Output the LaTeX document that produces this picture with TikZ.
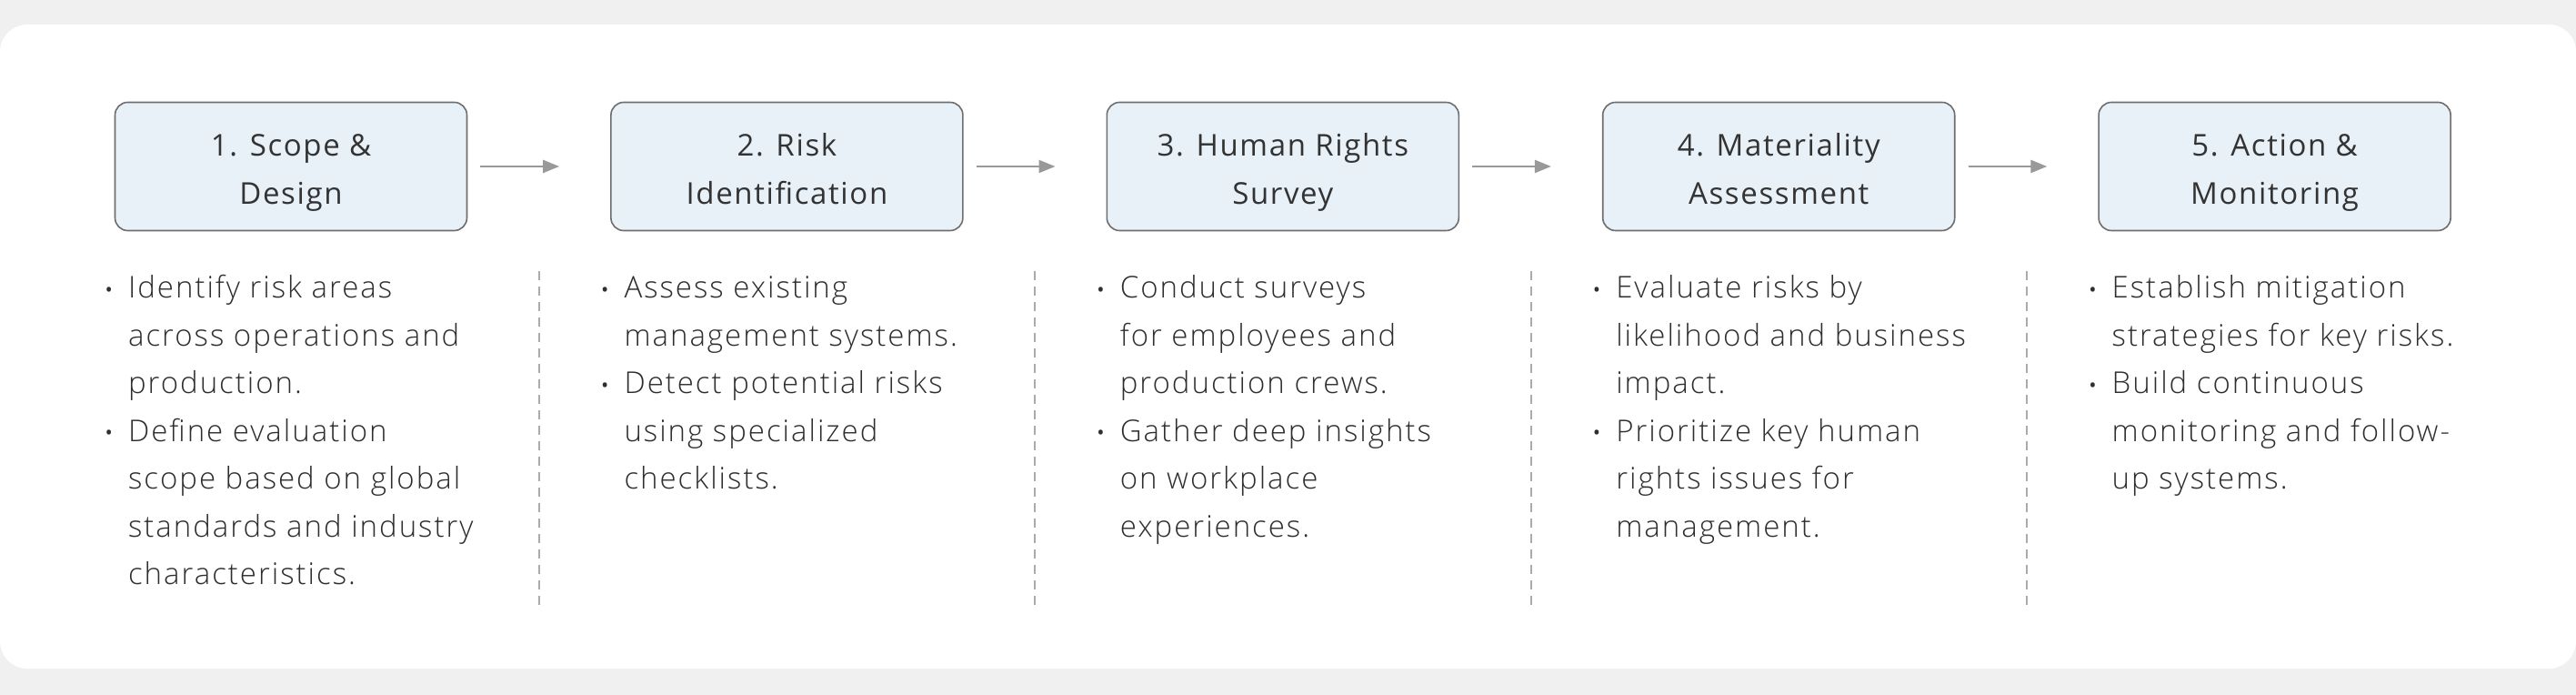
\documentclass[tikz,border=0pt]{standalone}
\usepackage{fontspec}
\setmainfont{Open Sans}
\newfontfamily\stagefont{Open Sans}[LetterSpace=5]
\newfontfamily\notefont{Open Sans Light}[LetterSpace=6]
\usetikzlibrary{positioning,arrows.meta}

\definecolor{pagegray}{HTML}{F0F0F0}
\definecolor{boxfill}{HTML}{E8F1F8}
\definecolor{boxline}{HTML}{6E6E6E}
\definecolor{inkdark}{HTML}{333333}
\definecolor{inknote}{HTML}{2E2E2E}
\definecolor{arrowgray}{HTML}{999999}
\definecolor{dashgray}{HTML}{ABABAB}

\newcommand{\blt}{\strut\llap{\raisebox{0.8pt}{\fontsize{11}{11}\stagefont\textbullet}\hspace{8.6pt}}}
\newcommand{\topstrut}{\rule{0pt}{22.9pt}}

\tikzstyle{stage} = [draw=boxline, line width=0.8pt, fill=boxfill, rounded corners=7pt, minimum width=193.5pt, minimum height=70.5pt, align=center, text=inkdark, font=\stagefont\fontsize{16.5}{26.25}\selectfont]
\tikzstyle{notes} = [inner sep=0pt, align=left, text=inknote, font=\notefont\fontsize{16.5}{26.25}\selectfont]
\tikzstyle{flow} = [draw=arrowgray, line width=1.2pt, -{Triangle[length=9pt,width=7pt]}, shorten <=7pt, shorten >=28pt]
\tikzstyle{divider} = [draw=dashgray, line width=1pt, dash pattern=on 5pt off 3.5pt]

\begin{document}
\begin{tikzpicture}
        % page and card
        \fill[pagegray] (0,0) rectangle (1416.5pt,382pt);
        \fill[white, rounded corners=15pt] (0,14.5pt) rectangle (1416.5pt,368.5pt);

        % stages
        \node[stage] (scope) at (160pt,290.5pt) {\topstrut 1. Scope \&\\Design\strut};
        \node[stage, right=78.4pt of scope] (risk) {\topstrut 2. Risk\\Identification\strut};
        \node[stage, right=78.4pt of risk] (survey) {\topstrut 3. Human Rights\\Survey\strut};
        \node[stage, right=78.4pt of survey] (material) {\topstrut 4. Materiality\\Assessment\strut};
        \node[stage, right=78.4pt of material] (action) {\topstrut 5. Action \&\\Monitoring\strut};

        \draw[flow] (scope) -- (risk);
        \draw[flow] (risk) -- (survey);
        \draw[flow] (survey) -- (material);
        \draw[flow] (material) -- (action);

        % notes under each stage
        \node[notes, below right=18.2pt and 7.5pt of scope.south west] (scope-notes) {%
            \blt Identify risk areas\\
            across operations and\\
            production.\\
            \blt Define evaluation\\
            scope based on global\\
            standards and industry\\
            characteristics.};
        \node[notes, below right=18.2pt and 7.5pt of risk.south west] (risk-notes) {%
            \blt Assess existing\\
            management systems.\\
            \blt Detect potential risks\\
            using specialized\\
            checklists.};
        \node[notes, below right=18.2pt and 7.5pt of survey.south west] (survey-notes) {%
            \blt Conduct surveys\\
            for employees and\\
            production crews.\\
            \blt Gather deep insights\\
            on workplace\\
            experiences.};
        \node[notes, below right=18.2pt and 7.5pt of material.south west] (material-notes) {%
            \blt Evaluate risks by\\
            likelihood and business\\
            impact.\\
            \blt Prioritize key human\\
            rights issues for\\
            management.};
        \node[notes, below right=18.2pt and 7.5pt of action.south west] (action-notes) {%
            \blt Establish mitigation\\
            strategies for key risks.\\
            \blt Build continuous\\
            monitoring and follow-\\
            up systems.};

        % dividers
        \path (scope) -- (risk) coordinate[midway] (gap1);
        \path (risk) -- (survey) coordinate[midway] (gap2);
        \path (survey) -- (material) coordinate[midway] (gap3);
        \path (material) -- (action) coordinate[midway] (gap4);
        \draw[divider] ([yshift=-57.5pt]gap1) -- ([yshift=-241pt]gap1);
        \draw[divider] ([yshift=-57.5pt]gap2) -- ([yshift=-241pt]gap2);
        \draw[divider] ([yshift=-57.5pt]gap3) -- ([yshift=-241pt]gap3);
        \draw[divider] ([yshift=-57.5pt]gap4) -- ([yshift=-241pt]gap4);
\end{tikzpicture}
\end{document}
